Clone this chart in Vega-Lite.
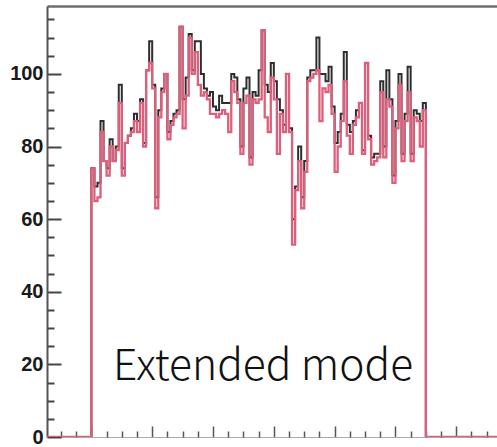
{
  "$schema": "https://vega.github.io/schema/vega-lite/v6.json",
  "width": 450,
  "height": 431,
  "autosize": {"type": "none"},
  "padding": {"left": 47, "top": 6, "right": 0, "bottom": 10},
  "background": "white",
  "config": {"view": {"stroke": null}, "axis": {"grid": false, "title": null}},
  "data": {
    "values": [
      {"bin": -20, "b": 0, "r": 0},
      {"bin": 0, "b": 74, "r": 74}, {"bin": 1, "b": 69, "r": 65}, {"bin": 2, "b": 70, "r": 66}, {"bin": 3, "b": 87, "r": 84},
      {"bin": 4, "b": 76, "r": 76}, {"bin": 5, "b": 74, "r": 72}, {"bin": 6, "b": 82, "r": 80}, {"bin": 7, "b": 76, "r": 76},
      {"bin": 8, "b": 80, "r": 79}, {"bin": 9, "b": 97, "r": 92}, {"bin": 10, "b": 74, "r": 72}, {"bin": 11, "b": 81, "r": 81},
      {"bin": 12, "b": 83, "r": 83}, {"bin": 13, "b": 85, "r": 84}, {"bin": 14, "b": 89, "r": 87}, {"bin": 15, "b": 87, "r": 84},
      {"bin": 16, "b": 93, "r": 92}, {"bin": 17, "b": 81, "r": 80}, {"bin": 18, "b": 101, "r": 101}, {"bin": 19, "b": 109, "r": 103},
      {"bin": 20, "b": 97, "r": 96}, {"bin": 21, "b": 66, "r": 63}, {"bin": 22, "b": 90, "r": 88}, {"bin": 23, "b": 96, "r": 95},
      {"bin": 24, "b": 100, "r": 100}, {"bin": 25, "b": 84, "r": 82}, {"bin": 26, "b": 87, "r": 86}, {"bin": 27, "b": 89, "r": 88},
      {"bin": 28, "b": 90, "r": 89}, {"bin": 29, "b": 113, "r": 113}, {"bin": 30, "b": 93, "r": 85}, {"bin": 31, "b": 99, "r": 94},
      {"bin": 32, "b": 111, "r": 110}, {"bin": 33, "b": 101, "r": 100}, {"bin": 34, "b": 109, "r": 106}, {"bin": 35, "b": 109, "r": 97},
      {"bin": 36, "b": 100, "r": 94}, {"bin": 37, "b": 96, "r": 95}, {"bin": 38, "b": 94, "r": 93}, {"bin": 39, "b": 95, "r": 89},
      {"bin": 40, "b": 91, "r": 89}, {"bin": 41, "b": 90, "r": 88}, {"bin": 42, "b": 94, "r": 89}, {"bin": 43, "b": 92, "r": 90},
      {"bin": 44, "b": 92, "r": 89}, {"bin": 45, "b": 92, "r": 84}, {"bin": 46, "b": 100, "r": 98}, {"bin": 47, "b": 99, "r": 95},
      {"bin": 48, "b": 93, "r": 92}, {"bin": 49, "b": 80, "r": 78}, {"bin": 50, "b": 96, "r": 92}, {"bin": 51, "b": 99, "r": 94},
      {"bin": 52, "b": 77, "r": 75}, {"bin": 53, "b": 95, "r": 93}, {"bin": 54, "b": 94, "r": 92}, {"bin": 55, "b": 101, "r": 93},
      {"bin": 56, "b": 112, "r": 112}, {"bin": 57, "b": 97, "r": 88}, {"bin": 58, "b": 95, "r": 84}, {"bin": 59, "b": 103, "r": 99},
      {"bin": 60, "b": 98, "r": 93}, {"bin": 61, "b": 93, "r": 78}, {"bin": 62, "b": 90, "r": 89}, {"bin": 63, "b": 86, "r": 84},
      {"bin": 64, "b": 100, "r": 100}, {"bin": 65, "b": 85, "r": 84}, {"bin": 66, "b": 60, "r": 53}, {"bin": 67, "b": 69, "r": 68},
      {"bin": 68, "b": 80, "r": 76}, {"bin": 69, "b": 66, "r": 63}, {"bin": 70, "b": 76, "r": 73}, {"bin": 71, "b": 99, "r": 98},
      {"bin": 72, "b": 101, "r": 99}, {"bin": 73, "b": 101, "r": 100}, {"bin": 74, "b": 110, "r": 101}, {"bin": 75, "b": 100, "r": 87},
      {"bin": 76, "b": 100, "r": 96}, {"bin": 77, "b": 98, "r": 95}, {"bin": 78, "b": 102, "r": 97}, {"bin": 79, "b": 91, "r": 89},
      {"bin": 80, "b": 81, "r": 73}, {"bin": 81, "b": 84, "r": 80}, {"bin": 82, "b": 89, "r": 87}, {"bin": 83, "b": 106, "r": 98},
      {"bin": 84, "b": 86, "r": 83}, {"bin": 85, "b": 84, "r": 78}, {"bin": 86, "b": 87, "r": 86}, {"bin": 87, "b": 90, "r": 88},
      {"bin": 88, "b": 92, "r": 92}, {"bin": 89, "b": 79, "r": 78}, {"bin": 90, "b": 103, "r": 103}, {"bin": 91, "b": 83, "r": 82},
      {"bin": 92, "b": 77, "r": 75}, {"bin": 93, "b": 78, "r": 76}, {"bin": 94, "b": 78, "r": 77}, {"bin": 95, "b": 98, "r": 95},
      {"bin": 96, "b": 80, "r": 77}, {"bin": 97, "b": 101, "r": 93}, {"bin": 98, "b": 93, "r": 91}, {"bin": 99, "b": 72, "r": 70},
      {"bin": 100, "b": 87, "r": 85}, {"bin": 101, "b": 100, "r": 97}, {"bin": 102, "b": 78, "r": 76}, {"bin": 103, "b": 89, "r": 87},
      {"bin": 104, "b": 102, "r": 95}, {"bin": 105, "b": 78, "r": 76}, {"bin": 106, "b": 90, "r": 88}, {"bin": 107, "b": 89, "r": 87},
      {"bin": 108, "b": 87, "r": 80}, {"bin": 109, "b": 92, "r": 90},
      {"bin": 110, "b": 0, "r": 0},
      {"bin": 140, "b": 0, "r": 0}
    ]
  },
  "resolve": {"axis": {"x": "independent", "y": "independent"}},
  "layer": [
    {
      "mark": {"type": "line", "interpolate": "step-after", "color": "#2e2e2e", "strokeWidth": 2, "clip": true},
      "encoding": {
        "x": {
          "field": "bin", "type": "quantitative",
          "scale": {"domain": [-14.6, 133.4], "nice": false, "zero": false},
          "axis": {"orient": "bottom", "values": [0, 20, 40, 60, 80, 100, 120], "tickSize": -11, "tickColor": "#555", "tickWidth": 1.5, "labels": false, "domain": true, "domainColor": "#aaaaaa", "domainWidth": 1}
        },
        "y": {
          "field": "b", "type": "quantitative",
          "scale": {"domain": [0, 118.7], "nice": false},
          "axis": {"orient": "left", "values": [0, 20, 40, 60, 80, 100], "tickSize": -14, "tickColor": "#444", "tickWidth": 2, "labelPadding": 18, "labelFont": "Liberation Sans", "labelFontSize": 20, "labelFontWeight": "bold", "labelColor": "#1a1a1a", "domainColor": "#555", "domainWidth": 2}
        }
      }
    },
    {
      "mark": {"type": "line", "interpolate": "step-after", "color": "#de5f7c", "strokeWidth": 2.3, "clip": true},
      "encoding": {
        "x": {
          "field": "bin", "type": "quantitative",
          "axis": {"orient": "bottom", "values": [-10, -5, 5, 10, 15, 25, 30, 35, 45, 50, 55, 65, 70, 75, 85, 90, 95, 105, 110, 115, 125, 130], "tickSize": -6, "tickColor": "#555", "tickWidth": 1.5, "labels": false, "domain": false}
        },
        "y": {
          "field": "r", "type": "quantitative",
          "axis": {"orient": "left", "values": [5, 10, 15, 25, 30, 35, 45, 50, 55, 65, 70, 75, 85, 90, 95, 105, 110, 115], "tickSize": -7, "tickColor": "#444", "tickWidth": 2, "labels": false, "domain": false}
        }
      }
    },
    {
      "data": {"values": [{"x": 7.1, "y": 15.7, "label": "Extended mode"}]},
      "mark": {"type": "text", "align": "left", "baseline": "alphabetic", "font": "Noto Sans CJK JP", "fontSize": 42.5, "fontWeight": 300, "color": "#111"},
      "encoding": {
        "x": {"field": "x", "type": "quantitative", "axis": {"orient": "top", "ticks": false, "labels": false, "domain": true, "domainColor": "#6e6e6e", "domainWidth": 2.5}},
        "y": {"field": "y", "type": "quantitative", "axis": null},
        "text": {"field": "label"}
      }
    }
  ]
}
